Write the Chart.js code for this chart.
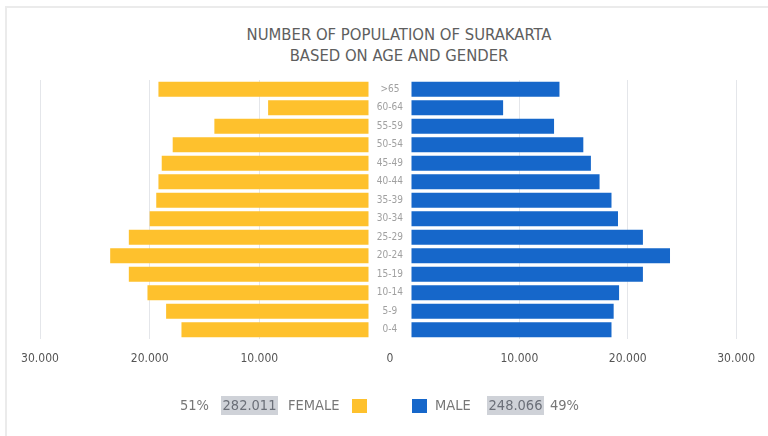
<!DOCTYPE html>
<html>
<head>
<meta charset="utf-8">
<script src="https://cdn.jsdelivr.net/npm/chart.js@4.4.1/dist/chart.umd.min.js"></script>
<style>
  html, body { margin: 0; padding: 0; background: #fff; }
  #wrap { position: relative; width: 768px; height: 436px; background: #fff; overflow: hidden;
          font-family: 'Liberation Sans Narrow', 'DejaVu Sans Condensed', 'Roboto Condensed', sans-serif; }
  #frame { position: absolute; left: 5px; top: 6px; right: -5px; bottom: -5px;
           border-top: 2px solid #ebebeb; border-left: 2px solid #ebebeb; }
  #title { position: absolute; top: 24px; left: 399px; transform: translateX(-50%);
           text-align: center; color: #5e5e5e; font-size: 16.5px; line-height: 21px; white-space: nowrap; }
  canvas { position: absolute; top: 0; }
  #legend { position: absolute; top: 396px; left: 0; width: 768px; height: 20px; color: #777; font-size: 14.5px; }
  #legend span { position: absolute; top: 0; line-height: 19px; white-space: nowrap; }
  #legend .num { background: #cfd2d8; color: #6b6f78; width: 57px; text-align: center; }
  #legend .sq { width: 15px; height: 14px; top: 3px; }
</style>
</head>
<body>
<div id="wrap">
  <div id="frame"></div>
  <div id="title">NUMBER OF POPULATION OF SURAKARTA<br>BASED ON AGE AND GENDER</div>
  <canvas id="cF" width="369" height="436" style="left:0"></canvas>
  <canvas id="cM" width="399" height="436" style="left:369px"></canvas>
  <div id="legend">
    <span id="lgFs" style="left:180px"></span>
    <span id="lgFn" class="num" style="left:221px"></span>
    <span id="lgFl" style="left:288px"></span>
    <span class="sq" id="lgFq" style="left:352px"></span>
    <span class="sq" id="lgMq" style="left:412px"></span>
    <span id="lgMl" style="left:435px"></span>
    <span id="lgMn" class="num" style="left:487px"></span>
    <span id="lgMs" style="left:550px"></span>
  </div>
</div>
<script>
// ---- data (top to bottom as drawn) ----
const ageGroups = ['>65','60-64','55-59','50-54','45-49','40-44','35-39','30-34','25-29','20-24','15-19','10-14','5-9','0-4'];
const female = [19200, 9200, 14100, 17900, 18900, 19200, 19400, 20000, 21900, 23600, 21900, 20200, 18500, 17100];
const male   = [13700, 8500, 13200, 15900, 16600, 17400, 18500, 19100, 21400, 23900, 21400, 19200, 18700, 18500];
const seriesNames = ['FEMALE', 'MALE'];
const totals = [282011, 248066];
const shares = [51, 49];
const xTicks = [0, 10000, 20000, 30000];

const YELLOW = '#FEC12D';
const BLUE = '#1667CA';
const FONT = "'Liberation Sans Narrow', 'DejaVu Sans Condensed', 'Roboto Condensed', sans-serif";

function fmt(v) { return String(v).replace(/\B(?=(\d{3})+(?!\d))/g, '.'); }

// legend
document.getElementById('lgFs').textContent = shares[0] + '%';
document.getElementById('lgFn').textContent = fmt(totals[0]);
document.getElementById('lgFl').textContent = seriesNames[0];
document.getElementById('lgFq').style.background = YELLOW;
document.getElementById('lgMq').style.background = BLUE;
document.getElementById('lgMl').textContent = seriesNames[1];
document.getElementById('lgMn').textContent = fmt(totals[1]);
document.getElementById('lgMs').textContent = shares[1] + '%';

function xScale(reverse) {
  return {
    type: 'linear', min: xTicks[0], max: xTicks[xTicks.length - 1], reverse: reverse,
    afterBuildTicks: s => { s.ticks = xTicks.map(v => ({ value: v })); },
    afterFit: s => { s.height = 31; },
    grid: { color: c => c.tick && c.tick.value === 0 ? 'rgba(0,0,0,0)' : '#e4e6ea', lineWidth: 1, drawTicks: false },
    border: { display: false },
    ticks: { padding: 13, color: '#555', font: { family: FONT, size: 12 },
             maxRotation: 0, autoSkip: false,
             callback: v => v === 0 ? '' : fmt(v) }
  };
}

const common = {
  indexAxis: 'y',
  responsive: false,
  animation: false,
  events: [],
  plugins: { legend: { display: false }, tooltip: { enabled: false }, title: { display: false } }
};

new Chart(document.getElementById('cF'), {
  type: 'bar',
  data: { labels: ageGroups, datasets: [{ label: seriesNames[0], data: female, backgroundColor: YELLOW,
          barPercentage: 0.81, categoryPercentage: 1 }] },
  options: Object.assign({}, common, {
    layout: { padding: { left: 40, right: 0, top: 80, bottom: 66 } },
    scales: { x: xScale(true), y: { display: false } }
  })
});

const zeroLabel = {
  id: 'zeroLabel',
  afterDraw(chart) {
    const ctx = chart.ctx, y = chart.scales.y, x = chart.scales.x;
    ctx.save();
    ctx.font = '12px ' + FONT;
    ctx.fillStyle = '#555';
    ctx.textAlign = 'center';
    ctx.textBaseline = 'top';
    ctx.fillText('0', (y.left + y.right) / 2, x.top + 14);
    ctx.restore();
  }
};

new Chart(document.getElementById('cM'), {
  type: 'bar',
  data: { labels: ageGroups, datasets: [{ label: seriesNames[1], data: male, backgroundColor: BLUE,
          barPercentage: 0.81, categoryPercentage: 1 }] },
  options: Object.assign({}, common, {
    layout: { padding: { left: 0, right: 27, top: 80, bottom: 66 } },
    scales: {
      x: xScale(false),
      y: { afterFit: s => { s.width = 42; }, grid: { display: false }, border: { display: false },
           ticks: { padding: 0, crossAlign: 'center', color: '#a0a0a0', font: { family: FONT, size: 10 } } }
    }
  }),
  plugins: [zeroLabel]
});
</script>
</body>
</html>
